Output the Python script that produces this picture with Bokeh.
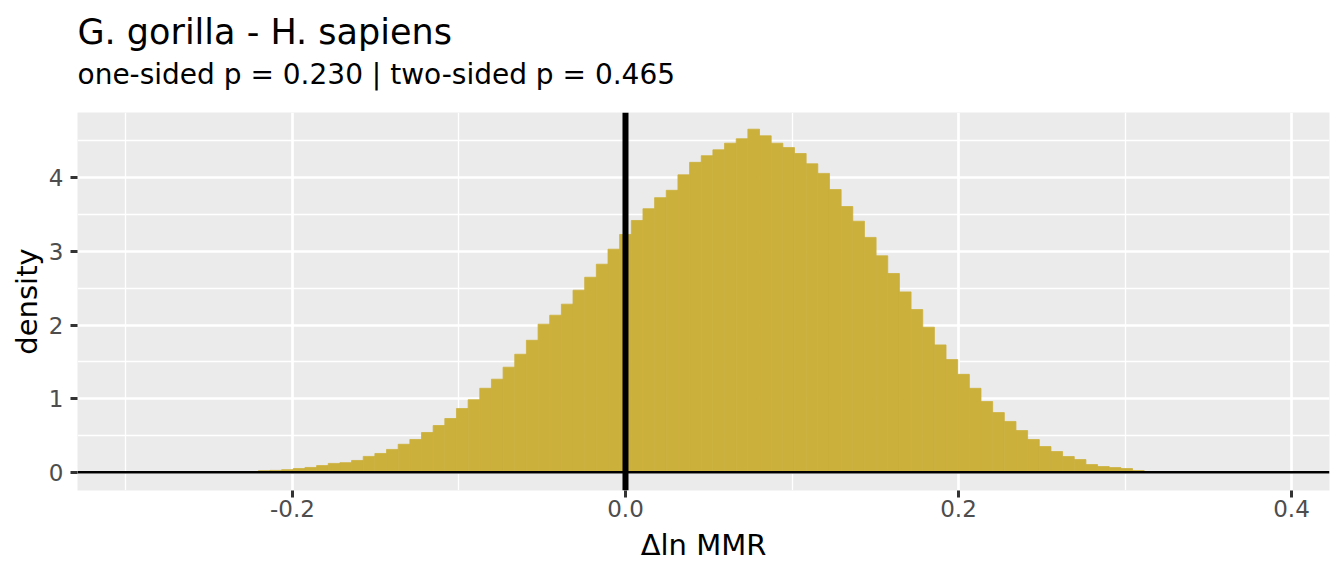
from bokeh.plotting import figure
from bokeh.models import Range1d, FixedTicker, PrintfTickFormatter, Span, Title, ColumnDataSource
from bokeh.embed import file_html
from bokeh.resources import INLINE

# ---- data ----
BIN_WIDTH = 0.007
bin_index = list(range(-32, 46))
density = [
    0.008, 0.02, 0.025, 0.035, 0.05, 0.065, 0.09, 0.12, 0.13, 0.16,
    0.215, 0.255, 0.31, 0.38, 0.445, 0.54, 0.635, 0.73, 0.865, 0.985,
    1.141, 1.264, 1.427, 1.603, 1.793, 2.011, 2.133, 2.283, 2.473, 2.649,
    2.826, 3.03, 3.23, 3.42, 3.58, 3.73, 3.83, 4.04, 4.21, 4.30,
    4.38, 4.47, 4.53, 4.66, 4.57, 4.47, 4.41, 4.33, 4.19, 4.06,
    3.84, 3.61, 3.41, 3.19, 2.94, 2.70, 2.45, 2.21, 1.97, 1.73,
    1.53, 1.33, 1.14, 0.96, 0.81, 0.69, 0.566, 0.444, 0.349, 0.281,
    0.213, 0.172, 0.104, 0.077, 0.063, 0.05, 0.023, 0.01,
]
x_ticks = [-0.2, 0.0, 0.2, 0.4]
x_minor = [-0.3, -0.1, 0.1, 0.3]
y_ticks = [0, 1, 2, 3, 4]
y_minor = [0.5, 1.5, 2.5, 3.5, 4.5]
title_text = "G. gorilla - H. sapiens"
subtitle_text = "one-sided p = 0.230 | two-sided p = 0.465"
x_label = "\u0394ln MMR"
y_label = "density"

centers = [k * BIN_WIDTH for k in bin_index]
src = ColumnDataSource(dict(
    left=[c - BIN_WIDTH / 2 for c in centers],
    right=[c + BIN_WIDTH / 2 for c in centers],
    top=density,
    bottom=[0] * len(density),
))

FONT = "DejaVu Sans"
X0, X1 = -0.3291, 0.4228
Y0, Y1 = -0.248, 4.887

p = figure(width=1344, height=576, output_backend="svg", toolbar_location=None,
           x_range=Range1d(X0, X1), y_range=Range1d(Y0, Y1),
           min_border_left=77, min_border_right=15, min_border_top=112, min_border_bottom=86)
p.title.visible = False
p.background_fill_color = "#EBEBEB"
p.border_fill_color = "white"
p.outline_line_color = None

# "above" panels stack outward from the frame in the order they are added
spacer = Title(text=" ", text_font=FONT, text_font_size="2px", standoff=18)
p.add_layout(spacer, "above")
sub = Title(text=subtitle_text, text_font=FONT, text_font_size="28px",
            text_font_style="normal", text_color="black", align="left", standoff=0)
p.add_layout(sub, "above")
ttl = Title(text=title_text, text_font=FONT, text_font_size="35px",
            text_font_style="normal", text_color="black", align="left", standoff=7.4)
p.add_layout(ttl, "above")

p.quad(left="left", right="right", top="top", bottom="bottom", source=src,
       fill_color="#CCB03C", line_color="#CCB03C", line_width=0.8)

p.add_layout(Span(location=0, dimension="height", line_color="black", line_width=6))
p.add_layout(Span(location=0, dimension="width", line_color="black", line_width=2.7))

p.xaxis.ticker = FixedTicker(ticks=x_ticks, minor_ticks=x_minor)
p.yaxis.ticker = FixedTicker(ticks=y_ticks, minor_ticks=y_minor)
p.xaxis.formatter = PrintfTickFormatter(format="%.1f")
p.yaxis.formatter = PrintfTickFormatter(format="%d")

for g in (p.xgrid, p.ygrid):
    g.grid_line_color = "white"
    g.grid_line_width = 2.7
    g.minor_grid_line_color = "white"
    g.minor_grid_line_width = 1.3

for ax in (p.xaxis, p.yaxis):
    ax.axis_line_color = None
    ax.major_tick_line_color = "#333333"
    ax.major_tick_line_width = 3
    ax.major_tick_out = 7
    ax.major_tick_in = 0
    ax.minor_tick_line_color = None
    ax.major_label_text_font = FONT
    ax.major_label_text_font_size = "23px"
    ax.major_label_text_color = "#4D4D4D"
    ax.axis_label_text_font = FONT
    ax.axis_label_text_font_size = "29px"
    ax.axis_label_text_font_style = "normal"
    ax.axis_label_text_color = "black"

p.xaxis.axis_label = x_label
p.yaxis.axis_label = y_label
p.xaxis.major_label_standoff = 2
p.yaxis.major_label_standoff = 7
p.xaxis.axis_label_standoff = 8
p.yaxis.axis_label_standoff = 2

open("out.html", "w").write(file_html(p, INLINE))
